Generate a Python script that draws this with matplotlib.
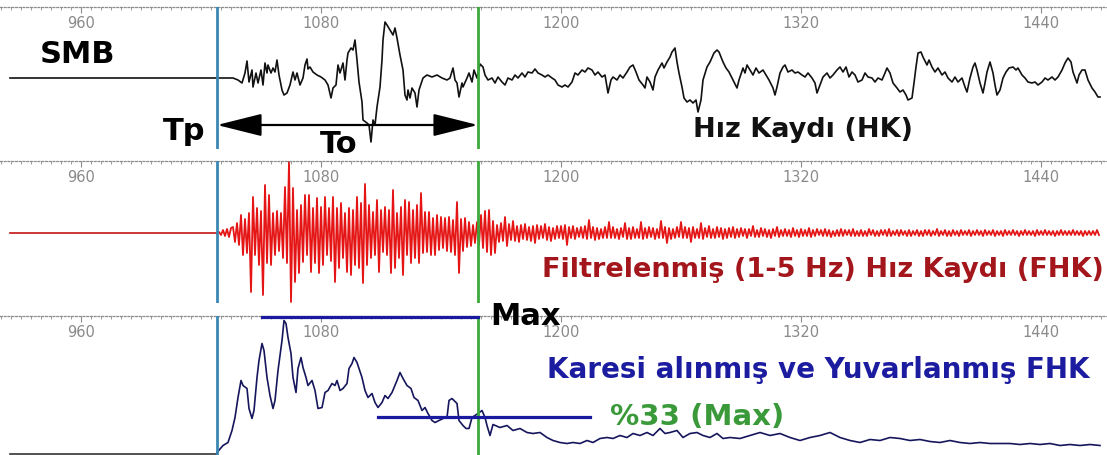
import matplotlib.pyplot as plt
import numpy as np
from matplotlib.ticker import MultipleLocator

# time axis (s) as printed on the record
tick_values = [960, 1080, 1200, 1320, 1440]
x_range = (919.5, 1473)
pre_start = 924.5     # where the flat pre-event line starts
tp_time = 1028        # P arrival (blue line)
to_time = 1158.5      # end of To window (green line)

# velocity record (HK): (time, amplitude)
hk_points = [
    (924.5, 0), (1028, 0), (1033, 0), (1036, 0), (1038.5, -2), (1040.5, -5), (1042, 5), (1043, 17),
    (1044, -4), (1045.5, 8), (1046, -9), (1047.5, 5), (1048.5, -5), (1050, 8), (1051, -7), (1052, 15),
    (1053, 5), (1053.5, 13), (1055, 5), (1056, 10), (1057, 6), (1058, 18), (1059, 3), (1060.5, -12),
    (1061.5, -17), (1063, -15), (1064.5, -7), (1066, 6), (1067, -2), (1068, 5), (1069.5, -7), (1071, 0),
    (1072, 13), (1073, 19), (1073.5, 9), (1074.5, 11), (1076, 6), (1078, 3), (1080, 1), (1082, -2),
    (1083.5, -7), (1085, -20), (1086, -10), (1087.5, -7), (1088.5, 13), (1089.5, 5), (1091, 15), (1092, -2),
    (1093, 18), (1093.5, 25), (1095, 30), (1096, 28), (1097, 38), (1098, 18), (1099, -4), (1100.5, -24),
    (1101, -42), (1103, -45), (1104, -47), (1105, -64), (1106, -42), (1107, -47), (1108, -29), (1109.5, -9),
    (1110.5, 18), (1111, 38), (1112, 56), (1113, 53), (1114.5, 48), (1116, 43), (1117, 50), (1118, 40),
    (1119.5, 23), (1121, 8), (1122, -17), (1123, -22), (1123.5, -12), (1124.5, -20), (1125.5, -10), (1127, -15),
    (1128, -29), (1129, -12), (1131, 0), (1133, 3), (1135.5, 1), (1138, 3), (1140.5, 0), (1143, -2),
    (1144.5, 0), (1146, 10), (1147, -2), (1148, -5), (1149, -19), (1150.5, -5), (1151, -9), (1153, 0),
    (1154, 5), (1155.5, -4), (1156.5, 8), (1158, 0), (1159.5, 14), (1161, 11), (1162, 3), (1163.5, -2),
    (1165.5, 0), (1167, -5), (1168.5, 1), (1170.5, -4), (1172, -7), (1173.5, 0), (1175.5, -2), (1177, 3),
    (1178.5, 0), (1180.5, 5), (1182, 1), (1183.5, 6), (1185.5, 5), (1187, 9), (1188.5, 5), (1190.5, 3),
    (1192, 1), (1193.5, 3), (1195.5, 0), (1197, -2), (1198.5, -7), (1200.5, -9), (1202, -7), (1203.5, -9),
    (1205.5, -4), (1207, 5), (1208.5, 3), (1210.5, 8), (1212, 6), (1213.5, 10), (1215.5, 8), (1217, 3),
    (1218.5, 6), (1220.5, 1), (1222, 3), (1223.5, -15), (1225, -2), (1226, 1), (1228, -2), (1229.5, 3),
    (1231, 0), (1233, 6), (1234.5, 11), (1236, 13), (1237.5, 6), (1239, -2), (1241, -7), (1242, -10),
    (1243, 1), (1244.5, -4), (1246, -12), (1247, 1), (1248.5, 8), (1250.5, 15), (1251.5, 10), (1253, 16),
    (1254.5, 21), (1255.5, 26), (1257, 30), (1258, 16), (1259, 5), (1260.5, -9), (1261.5, -20), (1263, -24),
    (1264.5, -22), (1266, -25), (1267.5, -22), (1268.5, -34), (1270, -22), (1271, -2), (1273, 11), (1274.5, 16),
    (1276.5, 25), (1278, 28), (1279, 26), (1281, 16), (1282.5, 10), (1284, 6), (1286, -2), (1288, -10),
    (1289, -2), (1291, 10), (1292, 5), (1293, 13), (1294.5, 8), (1296, 3), (1297.5, 10), (1299, 5),
    (1301, 8), (1302.5, 3), (1304, -2), (1306, -10), (1307, -17), (1308, -9), (1309.5, 5), (1311, 11),
    (1312, 13), (1313.5, 6), (1315.5, 8), (1317, 5), (1318.5, 6), (1320.5, 3), (1322, 1), (1323.5, 5),
    (1325.5, 0), (1327, -5), (1328, -15), (1329.5, -7), (1331, 1), (1333, 5), (1334.5, 0), (1336, 3),
    (1338, 8), (1339.5, 11), (1341, 6), (1342.5, 11), (1344, 1), (1345.5, 6), (1347, 3), (1348.5, -4),
    (1350.5, -2), (1352, 5), (1353.5, 1), (1355.5, 0), (1357, -4), (1358.5, 0), (1360.5, -2), (1362, 5),
    (1363, 10), (1364.5, 5), (1366, -5), (1368, -10), (1369.5, -14), (1371, -12), (1372.5, -17), (1373.5, -22),
    (1375.5, -20), (1376.5, -5), (1377.5, 11), (1378.5, 25), (1380, 26), (1381, 21), (1383, 13), (1384, 18),
    (1385.5, 11), (1387, 6), (1388.5, 10), (1390.5, 3), (1392, 6), (1393.5, 0), (1395.5, -4), (1397, 1),
    (1398.5, -4), (1400.5, 0), (1402, -9), (1403, -14), (1404.5, 0), (1406, 11), (1407, 15), (1408, 8),
    (1409.5, -5), (1411, -15), (1412, -5), (1413, 6), (1414.5, 16), (1416, 5), (1417, -7), (1418, -17),
    (1419.5, -12), (1421, 0), (1422.5, 6), (1424, 10), (1426, 11), (1427.5, 8), (1428.5, 10), (1430.5, 3),
    (1432, 0), (1433.5, -4), (1435.5, -5), (1437, -4), (1438.5, -7), (1440.5, -4), (1442, 0), (1443.5, -2),
    (1445.5, 1), (1447, -2), (1448.5, 1), (1450.5, 8), (1452, 15), (1453.5, 20), (1455, 16), (1456, 6),
    (1458, -5), (1459, 3), (1460.5, 8), (1462, 8), (1463.5, -2), (1465.5, -10), (1467, -14), (1468.5, -19),
    (1469.5, -19),
]

# filtered (1-5 Hz) record (FHK): one sample per second from Tp
fhk_times = list(range(1028, 1470))
fhk_strong = [
    0, 1, -2, 3, -3, 4, -4, 5,
    6, -9, 10, -12, 18, -22,
    14, -20, 20, -59, 36, -22, 25, -32, 22, -62,
    48, -30, 38, -32, 20, -22, 22, -18, 20, -25,
    46, -30, 72, -69, 45, -49, 23, -40, 28, -29,
    38, -22, 38, -39, 25, -30, 35, -40, 26, -32,
    36, -22, 25, -28, 36, -49, 25, -35, 30, -25,
    20, -39, 25, -42, 23, -32, 36, -35, 30, -50,
    49, -32, 28, -25, 21, -22, 33, -39, 23, -19,
    26, -22, 23, -40, 43, -35, 20, -25, 26, -42,
    33, -22, 31, -30, 23, -25, 28, -30, 40, -20,
    21, -19, 21, -22, 15, -22, 18, -17, 16, -15,
    15, -18, 16, -19, 13, -22, 31, -40, 14, -18,
    15, -14, 11, -13, 8, -10, 11, -12, 18, -15,
    22, -19, 23, -22, 12, -20, 8, -9,
]
fhk_coda = [
    10, -8, 16, -13, 9, -7, 12, -8, 7, -9, 8, -6, 9, -7, 6, -8, 7, -10, 8, -6, 7, -5, 9, -7, 6, -8, 5, -6, 7, -5,
    7, -6, 8, -12, 6, -5, 7, -6, 5, -4, 6, -5, 7, -6, 13, -5, 6, -7, 5, -6, 4, -5, 6, -5, 11, -5, 6, -5, 4, -6,
    5, -4, 10, -6, 5, -6, 6, -5, 4, -5, 11, -6, 5, -5, 6, -4, 5, -6, 4, -5, 12, -5, 6, -10, 5, -6, 4, -5, 6, -4,
    11, -5, 6, -5, 5, -9, 6, -5, 4, -5, 10, -6, 5, -4, 7, -5, 4, -5, 6, -4, 5, -6, 4, -5, 5, -4, 6, -5, 4, -4,
    5, -3, 4, -5, 4, -3, 7, -4, 3, -4, 5, -3, 4, -4, 3, -5, 4, -3, 6, -4, 3, -3, 4, -3, 3, -4, 5, -3, 3, -4,
    4, -3, 3, -3, 5, -4, 3, -3, 4, -2, 3, -3, 4, -3, 3, -4, 2, -3, 3, -3, 4, -3, 3, -2, 3, -3, 4, -3, 2, -3,
    3, -3, 2, -3, 4, -2, 3, -3, 2, -3, 3, -2, 3, -3, 4, -3, 2, -2, 3, -3, 3, -2, 2, -3, 3, -3, 2, -2, 3, -3,
    2, -3, 3, -2, 3, -3, 2, -2, 4, -3, 2, -2, 3, -3, 2, -3, 3, -2, 2, -3, 3, -2, 2, -2, 3, -3, 2, -2, 3, -2,
    2, -3, 3, -2, 2, -2, 3, -3, 2, -2, 2, -3, 3, -2, 2, -2, 3, -2, 2, -3, 2, -2, 3, -2, 2, -2, 2, -3, 3, -2,
    2, -2, 3, -2, 2, -2, 2, -3, 2, -2, 3, -2, 2, -2, 2, -2, 3, -2, 2, -2, 2, -3, 2, -2, 2, -2, 2, -2, 3, -2,
]

# squared and smoothed FHK: (time, value)
env_points = [
    (1028, 1), (1031, 8), (1033.5, 11), (1035.5, 23), (1037, 36), (1038.5, 56), (1040, 73), (1041, 68),
    (1043, 65), (1044, 45), (1045.5, 35), (1046.5, 43), (1048, 76), (1049, 93), (1050.5, 110), (1051.5, 103),
    (1053, 76), (1054.5, 58), (1056, 45), (1057, 53), (1058.5, 83), (1060.5, 113), (1061.5, 133), (1062.5, 130),
    (1063.5, 116), (1065, 100), (1066, 76), (1067.5, 61), (1068.5, 85), (1070, 96), (1071, 86), (1072.5, 76),
    (1073.5, 68), (1075.5, 73), (1077, 63), (1078.5, 45), (1080.5, 46), (1082, 61), (1083.5, 63), (1085.5, 70),
    (1087, 68), (1088, 73), (1089.5, 63), (1091, 65), (1093, 70), (1094, 85), (1095.5, 90), (1096.5, 96),
    (1098, 91), (1099, 85), (1100.5, 76), (1102, 63), (1103.5, 56), (1105.5, 60), (1107, 51), (1108.5, 46),
    (1110.5, 51), (1112, 58), (1113.5, 55), (1115.5, 61), (1118, 73), (1119.5, 81), (1121, 75), (1123, 68),
    (1125, 65), (1126.5, 56), (1128.5, 53), (1130.5, 43), (1132, 46), (1133.5, 40), (1135.5, 33), (1137, 31),
    (1139, 33), (1141, 35), (1143, 36), (1144, 53), (1145.5, 55), (1146.5, 53), (1148, 50), (1149, 33),
    (1151, 28), (1152.5, 25), (1154, 25), (1155.5, 36), (1157, 38), (1158.5, 40), (1160.5, 43), (1162, 36),
    (1163, 28), (1164.5, 18), (1166, 29), (1169.5, 26), (1173, 28), (1176, 23), (1179.5, 25), (1183, 21),
    (1186, 20), (1189.5, 21), (1193, 16), (1196, 13), (1199.5, 11), (1203, 10), (1206, 11), (1209.5, 10),
    (1213, 13), (1216, 11), (1219.5, 15), (1223, 16), (1226, 15), (1229.5, 18), (1233, 16), (1236, 20),
    (1239.5, 18), (1243, 21), (1246, 18), (1249.5, 25), (1252, 20), (1254.5, 21), (1258, 23), (1261, 16),
    (1264.5, 20), (1268, 21), (1271, 18), (1274.5, 16), (1278, 20), (1281, 15), (1284.5, 16), (1289.5, 15),
    (1294.5, 18), (1299.5, 21), (1304.5, 18), (1309.5, 20), (1314.5, 16), (1319.5, 13), (1324.5, 16), (1329.5, 18),
    (1334.5, 21), (1339.5, 16), (1344.5, 13), (1349.5, 11), (1354.5, 14), (1359.5, 13), (1364.5, 16), (1369.5, 15),
    (1374.5, 13), (1379.5, 14), (1384.5, 12), (1389.5, 11), (1394.5, 13), (1399.5, 11), (1404.5, 10), (1409.5, 11),
    (1414.5, 10), (1419.5, 10), (1424.5, 10), (1429.5, 9), (1434.5, 10), (1439.5, 9), (1444.5, 10), (1449.5, 8),
    (1454.5, 9), (1459.5, 8), (1464.5, 9), (1469.5, 8),
]
max_level = 137
max_span = (1050.5, 1158.5)
level33 = 36.5
level33_span = (1108.5, 1214.5)

plt.rcParams['font.family'] = 'DejaVu Sans'

fig = plt.figure(figsize=(11.07, 4.55), dpi=100)
H = 455.0


def panel(top, bottom, ylim):
    ax = fig.add_axes([0, 1 - bottom / H, 1, (bottom - top) / H])
    ax.set_xlim(*x_range)
    ax.set_ylim(*ylim)
    for s in ['left', 'right', 'bottom']:
        ax.spines[s].set_visible(False)
    ax.spines['top'].set_color('#8c8c8c')
    ax.spines['top'].set_linestyle((0, (1.5, 1.5)))
    ax.spines['top'].set_linewidth(0.9)
    ax.set_yticks([])
    ax.set_xticks(tick_values)
    ax.xaxis.set_minor_locator(MultipleLocator(5))
    ax.tick_params(axis='x', which='both', top=True, bottom=False, labeltop=True,
                   labelbottom=False, direction='in', color='#8c8c8c')
    ax.tick_params(axis='x', which='major', length=4, pad=-17, labelsize=10.5,
                   labelcolor='#8a8a8a')
    ax.tick_params(axis='x', which='minor', length=2.5)
    ax.patch.set_alpha(0)
    return ax


ax1 = panel(7, 149, (-71, 71))
ax2 = panel(161, 303, (-70, 72))
ax3 = panel(316, 455, (-1.5, 137.5))

for ax in (ax1, ax2, ax3):
    ax.axvline(tp_time, color='#3b87b3', lw=2.0, zorder=5)
    ax.axvline(to_time, color='#3aa83a', lw=2.0, zorder=5)

# panel 1: velocity record
hk_t, hk_v = zip(*hk_points)
ax1.plot(hk_t, hk_v, color='#111111', lw=1.2)
ax1.text(939.5, 15, 'SMB', fontsize=22, fontweight='bold', ha='left', va='baseline')
ax1.text(1001, -62, 'Tp', fontsize=22, fontweight='bold', ha='left', va='baseline')
ax1.text(1079.5, -75, 'To', fontsize=22, fontweight='bold', ha='left', va='baseline',
         clip_on=False, zorder=6)
ax1.annotate('', xy=(tp_time, -47), xytext=(to_time, -47),
             arrowprops=dict(arrowstyle='<|-|>,head_length=1.4,head_width=0.35',
                             mutation_scale=20, lw=1.6, color='black',
                             shrinkA=0, shrinkB=0), zorder=6)
ax1.text(1266, -59, 'Hız Kaydı (HK)', fontsize=19.5, fontweight='bold',
         ha='left', va='baseline', color='#111111')

# panel 2: filtered record
ax2.plot([pre_start, tp_time], [0, 0], color='#c41414', lw=1.2)
ax2.plot(fhk_times, fhk_strong + fhk_coda, color='#e51515', lw=1.3)
ax2.text(1190.5, -44, 'Filtrelenmiş (1-5 Hz) Hız Kaydı (FHK)', fontsize=19.5,
         fontweight='bold', ha='left', va='baseline', color='#a3171c')

# panel 3: squared & smoothed
env_t, env_v = zip(*env_points)
ax3.plot([pre_start, tp_time], [0, 0], color='#333333', lw=1.2, clip_on=False)
ax3.plot(env_t, env_v, color='#16165c', lw=1.2)
ax3.plot(max_span, [max_level, max_level], color='#1a1aa0', lw=2.3, clip_on=False, zorder=6)
ax3.plot(level33_span, [level33, level33], color='#1a1aa0', lw=2.3, zorder=6)
ax3.text(1164.5, 128.5, 'Max', fontsize=22, fontweight='bold', ha='left', va='baseline',
         clip_on=False, zorder=7)
ax3.text(1193, 75.5, 'Karesi alınmış ve Yuvarlanmış FHK', fontsize=20, fontweight='bold',
         ha='left', va='baseline', color='#1c1ca0')
ax3.text(1224.5, 28.5, '%33 (Max)', fontsize=21, fontweight='bold', ha='left',
         va='baseline', color='#3a9a3a')

fig.savefig('out.png', dpi=100)
